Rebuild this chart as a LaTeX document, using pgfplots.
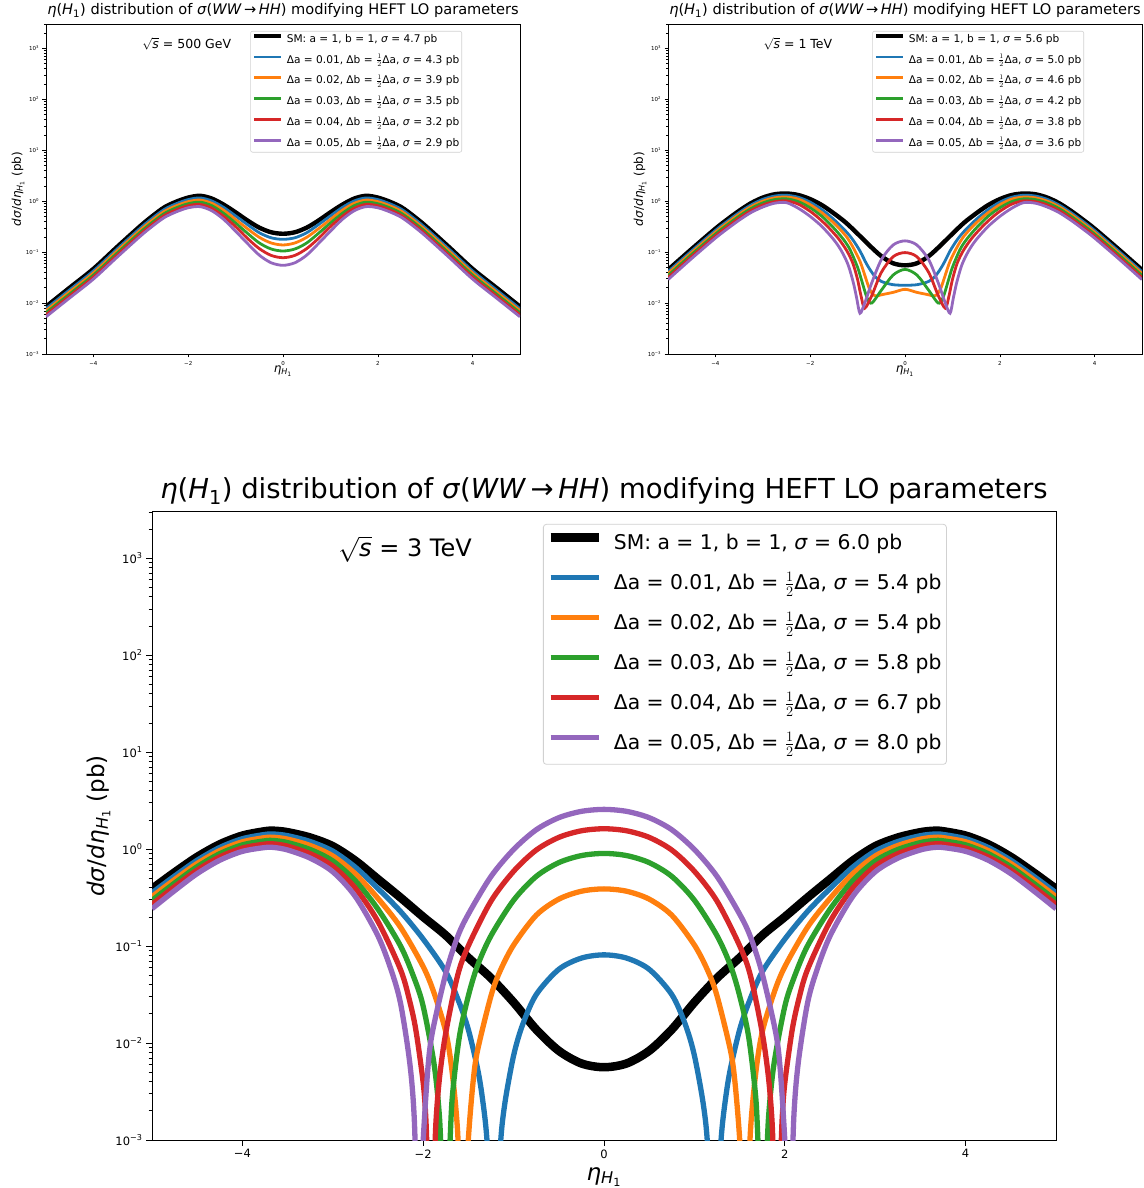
\documentclass[border=0pt]{standalone}
\usepackage{fontspec}
\setmainfont{DejaVu Sans}
\usepackage{pgfplots}
\pgfplotsset{compat=1.18}
\definecolor{cA}{HTML}{1F77B4}
\definecolor{cB}{HTML}{FF7F0E}
\definecolor{cC}{HTML}{2CA02C}
\definecolor{cD}{HTML}{D62728}
\definecolor{cE}{HTML}{9467BD}
\newcommand{\etaH}{\textit{η}\textsubscript{\textit{H}\textsubscript{1}}}
\newcommand{\ttl}{\textit{η}(\textit{H}\textsubscript{1}) distribution of \textit{σ}(\textit{WW}\,→\,\textit{HH}) modifying HEFT LO parameters}
\newcommand{\ylab}{\textit{dσ}/\textit{d}\etaH\ (pb)}
\newcommand{\ent}[2]{Δa = #1, Δb = $\frac{1}{2}$Δa, \textit{σ} = #2 pb}
\pgfplotsset{every axis/.append style={
    scale only axis, xmin=-5, xmax=5, ymode=log, ymin=1e-3, ymax=3000,
    xtick={-4,-2,0,2,4}, xticklabels={−4,−2,0,2,4},
    ytick={1e-3,1e-2,1e-1,1,10,100,1000},
    yticklabels={10\textsuperscript{−3},10\textsuperscript{−2},10\textsuperscript{−1},10\textsuperscript{0},10\textsuperscript{1},10\textsuperscript{2},10\textsuperscript{3}},
    minor ytick={2e-3,3e-3,4e-3,5e-3,6e-3,7e-3,8e-3,9e-3,2e-2,3e-2,4e-2,5e-2,6e-2,7e-2,8e-2,9e-2,0.2,0.3,0.4,0.5,0.6,0.7,0.8,0.9,2,3,4,5,6,7,8,9,20,30,40,50,60,70,80,90,200,300,400,500,600,700,800,900,2000,3000},
    tick pos=left, tick align=outside,
    legend cell align=left,
}}
\begin{document}
\begin{tikzpicture}
\useasboundingbox (0,0) rectangle (1143pt,1188pt);
% ---------------- 500 GeV ----------------
\begin{axis}[at={(46pt,834pt)}, anchor=south west, width=474pt, height=330pt,
    tick label style={font=\fontsize{5.5}{5.5}\selectfont},
    major tick length=3.5pt, minor tick length=2pt,
    axis line style={black, line width=0.8pt},
    major tick style={black, line width=0.6pt}, minor tick style={black, line width=0.5pt},
    title style={font=\fontsize{14.6}{14.6}\selectfont, at={(0.5,1)}, anchor=base, yshift=3.3pt},
    xlabel style={font=\fontsize{12}{12}\selectfont, at={(0.5,0)}, anchor=base, yshift=-19pt},
    ylabel style={font=\fontsize{12}{12}\selectfont, at={(-0.053,0.5)}, anchor=base},
    legend style={at={(0.431,0.979)}, anchor=north west, draw=black!18, line width=0.6pt,
      rounded corners=2pt, fill=white, font=\fontsize{10.6}{10.6}\selectfont,
      inner xsep=1.5pt, inner ysep=2.5pt, row sep=8.8pt, column sep=2.3pt,
      nodes={inner sep=1pt, text height=7.5pt, text depth=2.5pt}},
    legend image code/.code={\draw[#1] (0pt,3.6pt) -- (27pt,3.6pt); \path (0pt,0pt);},
    title={\ttl}, xlabel={\etaH}, ylabel={\ylab}]
\addplot[black, line width=4.4pt, smooth] coordinates {(-5,0.00851)(-4.5,0.0200)(-4,0.0468)(-3.5,0.126)(-3,0.331)(-2.75,0.513)(-2.5,0.759)(-2.25,0.977)(-2,1.175)(-1.75,1.274)(-1.5,1.122)(-1.25,0.851)(-1,0.603)(-0.75,0.417)(-0.5,0.302)(-0.25,0.245)(0,0.229)(0.25,0.245)(0.5,0.302)(0.75,0.417)(1,0.603)(1.25,0.851)(1.5,1.122)(1.75,1.274)(2,1.175)(2.25,0.977)(2.5,0.759)(2.75,0.513)(3,0.331)(3.5,0.126)(4,0.0468)(4.5,0.0200)(5,0.00851)};
\addlegendentry{SM: a = 1, b = 1, \textit{σ} = 4.7 pb}
\addplot[cA, line width=2.8pt, smooth] coordinates {(-5,0.00776)(-4.5,0.0182)(-4,0.0427)(-3.5,0.115)(-3,0.302)(-2.75,0.468)(-2.5,0.692)(-2.25,0.891)(-2,1.072)(-1.75,1.156)(-1.5,1.007)(-1.25,0.750)(-1,0.513)(-0.75,0.347)(-0.5,0.240)(-0.25,0.191)(0,0.178)(0.25,0.191)(0.5,0.240)(0.75,0.347)(1,0.513)(1.25,0.750)(1.5,1.007)(1.75,1.156)(2,1.072)(2.25,0.891)(2.5,0.692)(2.75,0.468)(3,0.302)(3.5,0.115)(4,0.0427)(4.5,0.0182)(5,0.00776)};
\addlegendentry{\ent{0.01}{4.3}}
\addplot[cB, line width=2.8pt, smooth] coordinates {(-5,0.00708)(-4.5,0.0166)(-4,0.0389)(-3.5,0.105)(-3,0.275)(-2.75,0.427)(-2.5,0.631)(-2.25,0.813)(-2,0.977)(-1.75,1.050)(-1.5,0.904)(-1.25,0.661)(-1,0.437)(-0.75,0.288)(-0.5,0.195)(-0.25,0.151)(0,0.138)(0.25,0.151)(0.5,0.195)(0.75,0.288)(1,0.437)(1.25,0.661)(1.5,0.904)(1.75,1.050)(2,0.977)(2.25,0.813)(2.5,0.631)(2.75,0.427)(3,0.275)(3.5,0.105)(4,0.0389)(4.5,0.0166)(5,0.00708)};
\addlegendentry{\ent{0.02}{3.9}}
\addplot[cC, line width=2.8pt, smooth] coordinates {(-5,0.00646)(-4.5,0.0151)(-4,0.0355)(-3.5,0.0955)(-3,0.251)(-2.75,0.389)(-2.5,0.575)(-2.25,0.741)(-2,0.891)(-1.75,0.955)(-1.5,0.813)(-1.25,0.575)(-1,0.372)(-0.75,0.234)(-0.5,0.151)(-0.25,0.115)(0,0.105)(0.25,0.115)(0.5,0.151)(0.75,0.234)(1,0.372)(1.25,0.575)(1.5,0.813)(1.75,0.955)(2,0.891)(2.25,0.741)(2.5,0.575)(2.75,0.389)(3,0.251)(3.5,0.0955)(4,0.0355)(4.5,0.0151)(5,0.00646)};
\addlegendentry{\ent{0.03}{3.5}}
\addplot[cD, line width=2.8pt, smooth] coordinates {(-5,0.00589)(-4.5,0.0138)(-4,0.0324)(-3.5,0.0871)(-3,0.229)(-2.75,0.355)(-2.5,0.525)(-2.25,0.676)(-2,0.813)(-1.75,0.863)(-1.5,0.724)(-1.25,0.501)(-1,0.316)(-0.75,0.186)(-0.5,0.117)(-0.25,0.0861)(0,0.0776)(0.25,0.0861)(0.5,0.117)(0.75,0.186)(1,0.316)(1.25,0.501)(1.5,0.724)(1.75,0.863)(2,0.813)(2.25,0.676)(2.5,0.525)(2.75,0.355)(3,0.229)(3.5,0.0871)(4,0.0324)(4.5,0.0138)(5,0.00589)};
\addlegendentry{\ent{0.04}{3.2}}
\addplot[cE, line width=2.8pt, smooth] coordinates {(-5,0.00537)(-4.5,0.0126)(-4,0.0295)(-3.5,0.0794)(-3,0.209)(-2.75,0.324)(-2.5,0.479)(-2.25,0.617)(-2,0.741)(-1.75,0.780)(-1.5,0.646)(-1.25,0.437)(-1,0.257)(-0.75,0.148)(-0.5,0.0871)(-0.25,0.0617)(0,0.0550)(0.25,0.0617)(0.5,0.0871)(0.75,0.148)(1,0.257)(1.25,0.437)(1.5,0.646)(1.75,0.780)(2,0.741)(2.25,0.617)(2.5,0.479)(2.75,0.324)(3,0.209)(3.5,0.0794)(4,0.0295)(4.5,0.0126)(5,0.00537)};
\addlegendentry{\ent{0.05}{2.9}}
\node[font=\fontsize{12.5}{12.5}\selectfont] at (axis description cs:0.297,0.939) {$\sqrt{\textit{s}}$ = 500 GeV};
\end{axis}
% ---------------- 1 TeV ----------------
\begin{axis}[at={(668pt,834pt)}, anchor=south west, width=474pt, height=330pt,
    tick label style={font=\fontsize{5.5}{5.5}\selectfont},
    major tick length=3.5pt, minor tick length=2pt,
    axis line style={black, line width=0.8pt},
    major tick style={black, line width=0.6pt}, minor tick style={black, line width=0.5pt},
    title style={font=\fontsize{14.6}{14.6}\selectfont, at={(0.5,1)}, anchor=base, yshift=3.3pt},
    xlabel style={font=\fontsize{12}{12}\selectfont, at={(0.5,0)}, anchor=base, yshift=-19pt},
    ylabel style={font=\fontsize{12}{12}\selectfont, at={(-0.053,0.5)}, anchor=base},
    legend style={at={(0.431,0.979)}, anchor=north west, draw=black!18, line width=0.6pt,
      rounded corners=2pt, fill=white, font=\fontsize{10.6}{10.6}\selectfont,
      inner xsep=1.5pt, inner ysep=2.5pt, row sep=8.8pt, column sep=2.3pt,
      nodes={inner sep=1pt, text height=7.5pt, text depth=2.5pt}},
    legend image code/.code={\draw[#1] (0pt,3.6pt) -- (27pt,3.6pt); \path (0pt,0pt);},
    title={\ttl}, xlabel={\etaH}, ylabel={\ylab}]
\addplot[black, line width=4.4pt, smooth] coordinates {(-5,0.0447)(-4.5,0.115)(-4,0.288)(-3.75,0.437)(-3.5,0.646)(-3.25,0.912)(-3,1.175)(-2.75,1.365)(-2.5,1.413)(-2.25,1.318)(-2,1.096)(-1.75,0.832)(-1.5,0.575)(-1.25,0.380)(-1,0.229)(-0.75,0.135)(-0.5,0.0832)(-0.25,0.0603)(0,0.0550)(0.25,0.0603)(0.5,0.0832)(0.75,0.135)(1,0.229)(1.25,0.380)(1.5,0.575)(1.75,0.832)(2,1.096)(2.25,1.318)(2.5,1.413)(2.75,1.365)(3,1.175)(3.25,0.912)(3.5,0.646)(3.75,0.437)(4,0.288)(4.5,0.115)(5,0.0447)};
\addlegendentry{SM: a = 1, b = 1, \textit{σ} = 5.6 pb}
\addplot[cA, line width=2.8pt, smooth] coordinates {(-5,0.0412)(-4.5,0.106)(-4,0.266)(-3.75,0.403)(-3.5,0.596)(-3.25,0.841)(-3,1.084)(-2.75,1.259)(-2.5,1.303)(-2.25,1.189)(-2,0.955)(-1.75,0.676)(-1.5,0.437)(-1.25,0.257)(-1.1,0.174)(-0.95,0.105)(-0.8,0.0562)(-0.65,0.0347)(-0.5,0.0266)(-0.25,0.0229)(0,0.0224)(0.25,0.0229)(0.5,0.0266)(0.65,0.0347)(0.8,0.0562)(0.95,0.105)(1.1,0.174)(1.25,0.257)(1.5,0.437)(1.75,0.676)(2,0.955)(2.25,1.189)(2.5,1.303)(2.75,1.259)(3,1.084)(3.25,0.841)(3.5,0.596)(3.75,0.403)(4,0.266)(4.5,0.106)(5,0.0412)};
\addlegendentry{\ent{0.01}{5.0}}
\addplot[cB, line width=2.8pt, smooth] coordinates {(-5,0.0380)(-4.5,0.0977)(-4,0.245)(-3.75,0.372)(-3.5,0.550)(-3.25,0.776)(-3,1.0)(-2.75,1.161)(-2.5,1.202)(-2.25,1.096)(-2,0.851)(-1.75,0.589)(-1.5,0.372)(-1.25,0.209)(-1.1,0.126)(-0.95,0.0661)(-0.85,0.0355)(-0.76,0.0200)(-0.68,0.0148)(-0.6,0.0138)(-0.5,0.0145)(-0.25,0.0162)(0,0.0186)(0.25,0.0162)(0.5,0.0145)(0.6,0.0138)(0.68,0.0148)(0.76,0.0200)(0.85,0.0355)(0.95,0.0661)(1.1,0.126)(1.25,0.209)(1.5,0.372)(1.75,0.589)(2,0.851)(2.25,1.096)(2.5,1.202)(2.75,1.161)(3,1.0)(3.25,0.776)(3.5,0.550)(3.75,0.372)(4,0.245)(4.5,0.0977)(5,0.0380)};
\addlegendentry{\ent{0.02}{4.6}}
\addplot[cC, line width=2.8pt, smooth] coordinates {(-5,0.0347)(-4.5,0.0902)(-4,0.226)(-3.75,0.343)(-3.5,0.507)(-3.25,0.716)(-3,0.923)(-2.75,1.072)(-2.5,1.109)(-2.25,0.977)(-2,0.741)(-1.75,0.501)(-1.5,0.295)(-1.3,0.178)(-1.16,0.112)(-1,0.0501)(-0.92,0.0288)(-0.8,0.0126)(-0.7,0.0100)(-0.5,0.0178)(-0.25,0.0355)(0,0.0457)(0.25,0.0355)(0.5,0.0178)(0.7,0.0100)(0.8,0.0126)(0.92,0.0288)(1,0.0501)(1.16,0.112)(1.3,0.178)(1.5,0.295)(1.75,0.501)(2,0.741)(2.25,0.977)(2.5,1.109)(2.75,1.072)(3,0.923)(3.25,0.716)(3.5,0.507)(3.75,0.343)(4,0.226)(4.5,0.0902)(5,0.0347)};
\addlegendentry{\ent{0.03}{4.2}}
\addplot[cD, line width=2.8pt, smooth] coordinates {(-5,0.0316)(-4.5,0.0822)(-4,0.207)(-3.75,0.313)(-3.5,0.462)(-3.25,0.653)(-3,0.841)(-2.75,0.977)(-2.5,1.012)(-2.25,0.871)(-2,0.631)(-1.8,0.447)(-1.6,0.295)(-1.4,0.182)(-1.23,0.107)(-1.1,0.0603)(-1,0.0288)(-0.93,0.0141)(-0.85,0.00794)(-0.7,0.0141)(-0.5,0.0398)(-0.25,0.0813)(0,0.0977)(0.25,0.0813)(0.5,0.0398)(0.7,0.0141)(0.85,0.00794)(0.93,0.0141)(1,0.0288)(1.1,0.0603)(1.23,0.107)(1.4,0.182)(1.6,0.295)(1.8,0.447)(2,0.631)(2.25,0.871)(2.5,1.012)(2.75,0.977)(3,0.841)(3.25,0.653)(3.5,0.462)(3.75,0.313)(4,0.207)(4.5,0.0822)(5,0.0316)};
\addlegendentry{\ent{0.04}{3.8}}
\addplot[cE, line width=2.8pt, smooth] coordinates {(-5,0.0288)(-4.5,0.0750)(-4,0.188)(-3.75,0.285)(-3.5,0.422)(-3.25,0.596)(-3,0.767)(-2.75,0.912)(-2.5,0.933)(-2.25,0.724)(-2,0.501)(-1.75,0.316)(-1.5,0.174)(-1.34,0.105)(-1.2,0.0562)(-1.09,0.0251)(-1.02,0.0126)(-0.95,0.00631)(-0.85,0.0100)(-0.7,0.0251)(-0.5,0.0708)(-0.25,0.138)(0,0.166)(0.25,0.138)(0.5,0.0708)(0.7,0.0251)(0.85,0.0100)(0.95,0.00631)(1.02,0.0126)(1.09,0.0251)(1.2,0.0562)(1.34,0.105)(1.5,0.174)(1.75,0.316)(2,0.501)(2.25,0.724)(2.5,0.933)(2.75,0.912)(3,0.767)(3.25,0.596)(3.5,0.422)(3.75,0.285)(4,0.188)(4.5,0.0750)(5,0.0288)};
\addlegendentry{\ent{0.05}{3.6}}
\node[font=\fontsize{12.5}{12.5}\selectfont] at (axis description cs:0.274,0.939) {$\sqrt{\textit{s}}$ = 1 TeV};
\end{axis}
% ---------------- 3 TeV ----------------
\begin{axis}[at={(152pt,48pt)}, anchor=south west, width=904pt, height=628pt,
    tick label style={font=\fontsize{11.5}{11.5}\selectfont},
    major tick length=6pt, minor tick length=3.5pt,
    axis line style={black, line width=1pt},
    major tick style={black, line width=1pt}, minor tick style={black, line width=0.8pt},
    title style={font=\fontsize{27.5}{27.5}\selectfont, at={(0.5,1)}, anchor=base, yshift=7pt},
    xlabel style={font=\fontsize{23}{23}\selectfont, at={(0.5,0)}, anchor=base, yshift=-40pt},
    ylabel style={font=\fontsize{23}{23}\selectfont, at={(-0.053,0.5)}, anchor=base},
    legend style={at={(0.4325,0.981)}, anchor=north west, draw=black!18, line width=0.8pt,
      rounded corners=3pt, fill=white, font=\fontsize{20.3}{20.3}\selectfont,
      inner xsep=3pt, inner ysep=8pt, row sep=16pt, column sep=9pt,
      nodes={inner sep=2pt, text height=15pt, text depth=5pt}},
    legend image code/.code={\draw[#1] (0pt,7pt) -- (48pt,7pt); \path (0pt,0pt);},
    title={\ttl}, xlabel={\etaH}, ylabel={\ylab}]
\addplot[black, line width=8.5pt, smooth] coordinates {(-5,0.389)(-4.75,0.576)(-4.5,0.832)(-4.25,1.122)(-4,1.380)(-3.75,1.531)(-3.65,1.549)(-3.5,1.496)(-3.25,1.318)(-3,1.072)(-2.75,0.759)(-2.5,0.490)(-2.25,0.316)(-2,0.200)(-1.75,0.129)(-1.5,0.0759)(-1.25,0.0468)(-1,0.0263)(-0.75,0.0138)(-0.5,0.00832)(-0.25,0.00616)(0,0.00563)(0.25,0.00616)(0.5,0.00832)(0.75,0.0138)(1,0.0263)(1.25,0.0468)(1.5,0.0759)(1.75,0.129)(2,0.200)(2.25,0.316)(2.5,0.490)(2.75,0.759)(3,1.072)(3.25,1.318)(3.5,1.496)(3.65,1.549)(3.75,1.531)(4,1.380)(4.25,1.122)(4.5,0.832)(4.75,0.576)(5,0.389)};
\addlegendentry{SM: a = 1, b = 1, \textit{σ} = 6.0 pb}
\addplot[cA, line width=5.3pt, smooth] coordinates {(-5,0.355)(-4.75,0.528)(-4.5,0.769)(-4.25,1.041)(-4,1.281)(-3.75,1.418)(-3.65,1.431)(-3.5,1.376)(-3.25,1.198)(-3,0.954)(-2.75,0.650)(-2.5,0.392)(-2.25,0.227)(-2,0.118)(-1.75,0.0542)(-1.6,0.0259)(-1.5,0.0137)(-1.4,0.00552)(-1.35,0.00291)(-1.3,0.00116)(-1.25,0.000216)(-1.2,0.0000462)(-1.15,0.000756)(-1.1,0.00228)(-1,0.00743)(-0.9,0.0155)(-0.75,0.0316)(-0.5,0.0576)(-0.25,0.0752)(0,0.0812)(0.25,0.0752)(0.5,0.0576)(0.75,0.0316)(0.9,0.0155)(1,0.00743)(1.1,0.00228)(1.15,0.000756)(1.2,0.0000462)(1.25,0.000216)(1.3,0.00116)(1.35,0.00291)(1.4,0.00552)(1.5,0.0137)(1.6,0.0259)(1.75,0.0542)(2,0.118)(2.25,0.227)(2.5,0.392)(2.75,0.650)(3,0.954)(3.25,1.198)(3.5,1.376)(3.65,1.431)(3.75,1.418)(4,1.281)(4.25,1.041)(4.5,0.769)(4.75,0.528)(5,0.355)};
\addlegendentry{\ent{0.01}{5.4}}
\addplot[cB, line width=5.3pt, smooth] coordinates {(-5,0.324)(-4.75,0.486)(-4.5,0.712)(-4.25,0.967)(-4,1.190)(-3.75,1.315)(-3.65,1.324)(-3.5,1.268)(-3.25,1.090)(-3,0.850)(-2.75,0.555)(-2.5,0.310)(-2.25,0.156)(-2,0.0613)(-1.88,0.0328)(-1.75,0.0130)(-1.68,0.00503)(-1.62,0.00125)(-1.58,0.000154)(-1.53,0.000246)(-1.5,0.00104)(-1.45,0.00383)(-1.4,0.00830)(-1.25,0.0307)(-1.15,0.0552)(-1,0.1025)(-0.75,0.208)(-0.5,0.305)(-0.25,0.368)(0,0.389)(0.25,0.368)(0.5,0.305)(0.75,0.208)(1,0.1025)(1.15,0.0552)(1.25,0.0307)(1.4,0.00830)(1.45,0.00383)(1.5,0.00104)(1.53,0.000246)(1.58,0.000154)(1.62,0.00125)(1.68,0.00503)(1.75,0.0130)(1.88,0.0328)(2,0.0613)(2.25,0.156)(2.5,0.310)(2.75,0.555)(3,0.850)(3.25,1.090)(3.5,1.268)(3.65,1.324)(3.75,1.315)(4,1.190)(4.25,0.967)(4.5,0.712)(4.75,0.486)(5,0.324)};
\addlegendentry{\ent{0.02}{5.4}}
\addplot[cC, line width=5.3pt, smooth] coordinates {(-5,0.296)(-4.75,0.447)(-4.5,0.659)(-4.25,0.898)(-4,1.107)(-3.75,1.219)(-3.65,1.226)(-3.5,1.168)(-3.25,0.991)(-3,0.755)(-2.75,0.471)(-2.5,0.240)(-2.25,0.100)(-2.1,0.0467)(-2,0.0239)(-1.88,0.00608)(-1.82,0.00172)(-1.78,0.000313)(-1.72,0.000488)(-1.68,0.00264)(-1.6,0.0116)(-1.5,0.0308)(-1.4,0.0626)(-1.25,0.128)(-1,0.297)(-0.75,0.523)(-0.5,0.726)(-0.25,0.858)(0,0.903)(0.25,0.858)(0.5,0.726)(0.75,0.523)(1,0.297)(1.25,0.128)(1.4,0.0626)(1.5,0.0308)(1.6,0.0116)(1.68,0.00264)(1.72,0.000488)(1.78,0.000313)(1.82,0.00172)(1.88,0.00608)(2,0.0239)(2.1,0.0467)(2.25,0.100)(2.5,0.240)(2.75,0.471)(3,0.755)(3.25,0.991)(3.5,1.168)(3.65,1.226)(3.75,1.219)(4,1.107)(4.25,0.898)(4.5,0.659)(4.75,0.447)(5,0.296)};
\addlegendentry{\ent{0.03}{5.8}}
\addplot[cD, line width=5.3pt, smooth] coordinates {(-5,0.269)(-4.75,0.410)(-4.5,0.608)(-4.25,0.832)(-4,1.026)(-3.75,1.128)(-3.65,1.132)(-3.5,1.073)(-3.25,0.897)(-3,0.667)(-2.75,0.395)(-2.5,0.179)(-2.25,0.0569)(-2.15,0.0272)(-2.08,0.0134)(-2,0.00387)(-1.97,0.00161)(-1.94,0.000335)(-1.89,0.000303)(-1.86,0.00148)(-1.82,0.00436)(-1.75,0.0128)(-1.62,0.0495)(-1.5,0.101)(-1.25,0.291)(-1,0.591)(-0.75,0.978)(-0.5,1.322)(-0.25,1.546)(0,1.623)(0.25,1.546)(0.5,1.322)(0.75,0.978)(1,0.591)(1.25,0.291)(1.5,0.101)(1.62,0.0495)(1.75,0.0128)(1.82,0.00436)(1.86,0.00148)(1.89,0.000303)(1.94,0.000335)(1.97,0.00161)(2,0.00387)(2.08,0.0134)(2.15,0.0272)(2.25,0.0569)(2.5,0.179)(2.75,0.395)(3,0.667)(3.25,0.897)(3.5,1.073)(3.65,1.132)(3.75,1.128)(4,1.026)(4.25,0.832)(4.5,0.608)(4.75,0.410)(5,0.269)};
\addlegendentry{\ent{0.04}{6.7}}
\addplot[cE, line width=5.3pt, smooth] coordinates {(-5,0.243)(-4.75,0.373)(-4.5,0.559)(-4.25,0.768)(-4,0.948)(-3.75,1.039)(-3.65,1.040)(-3.5,0.980)(-3.25,0.807)(-3,0.583)(-2.75,0.324)(-2.5,0.127)(-2.35,0.0550)(-2.25,0.0255)(-2.15,0.00640)(-2.1,0.00175)(-2.06,0.000144)(-2.02,0.000296)(-2,0.000992)(-1.95,0.00524)(-1.9,0.0127)(-1.75,0.0522)(-1.62,0.1246)(-1.5,0.214)(-1.25,0.523)(-1,0.991)(-0.75,1.584)(-0.5,2.110)(-0.25,2.452)(0,2.570)(0.25,2.452)(0.5,2.110)(0.75,1.584)(1,0.991)(1.25,0.523)(1.5,0.214)(1.62,0.1246)(1.75,0.0522)(1.9,0.0127)(1.95,0.00524)(2,0.000992)(2.02,0.000296)(2.06,0.000144)(2.1,0.00175)(2.15,0.00640)(2.25,0.0255)(2.35,0.0550)(2.5,0.127)(2.75,0.324)(3,0.583)(3.25,0.807)(3.5,0.980)(3.65,1.040)(3.75,1.039)(4,0.948)(4.25,0.768)(4.5,0.559)(4.75,0.373)(5,0.243)};
\addlegendentry{\ent{0.05}{8.0}}
\node[font=\fontsize{24}{24}\selectfont] at (axis description cs:0.28,0.941) {$\sqrt{\textit{s}}$ = 3 TeV};
\end{axis}
\end{tikzpicture}
\end{document}
